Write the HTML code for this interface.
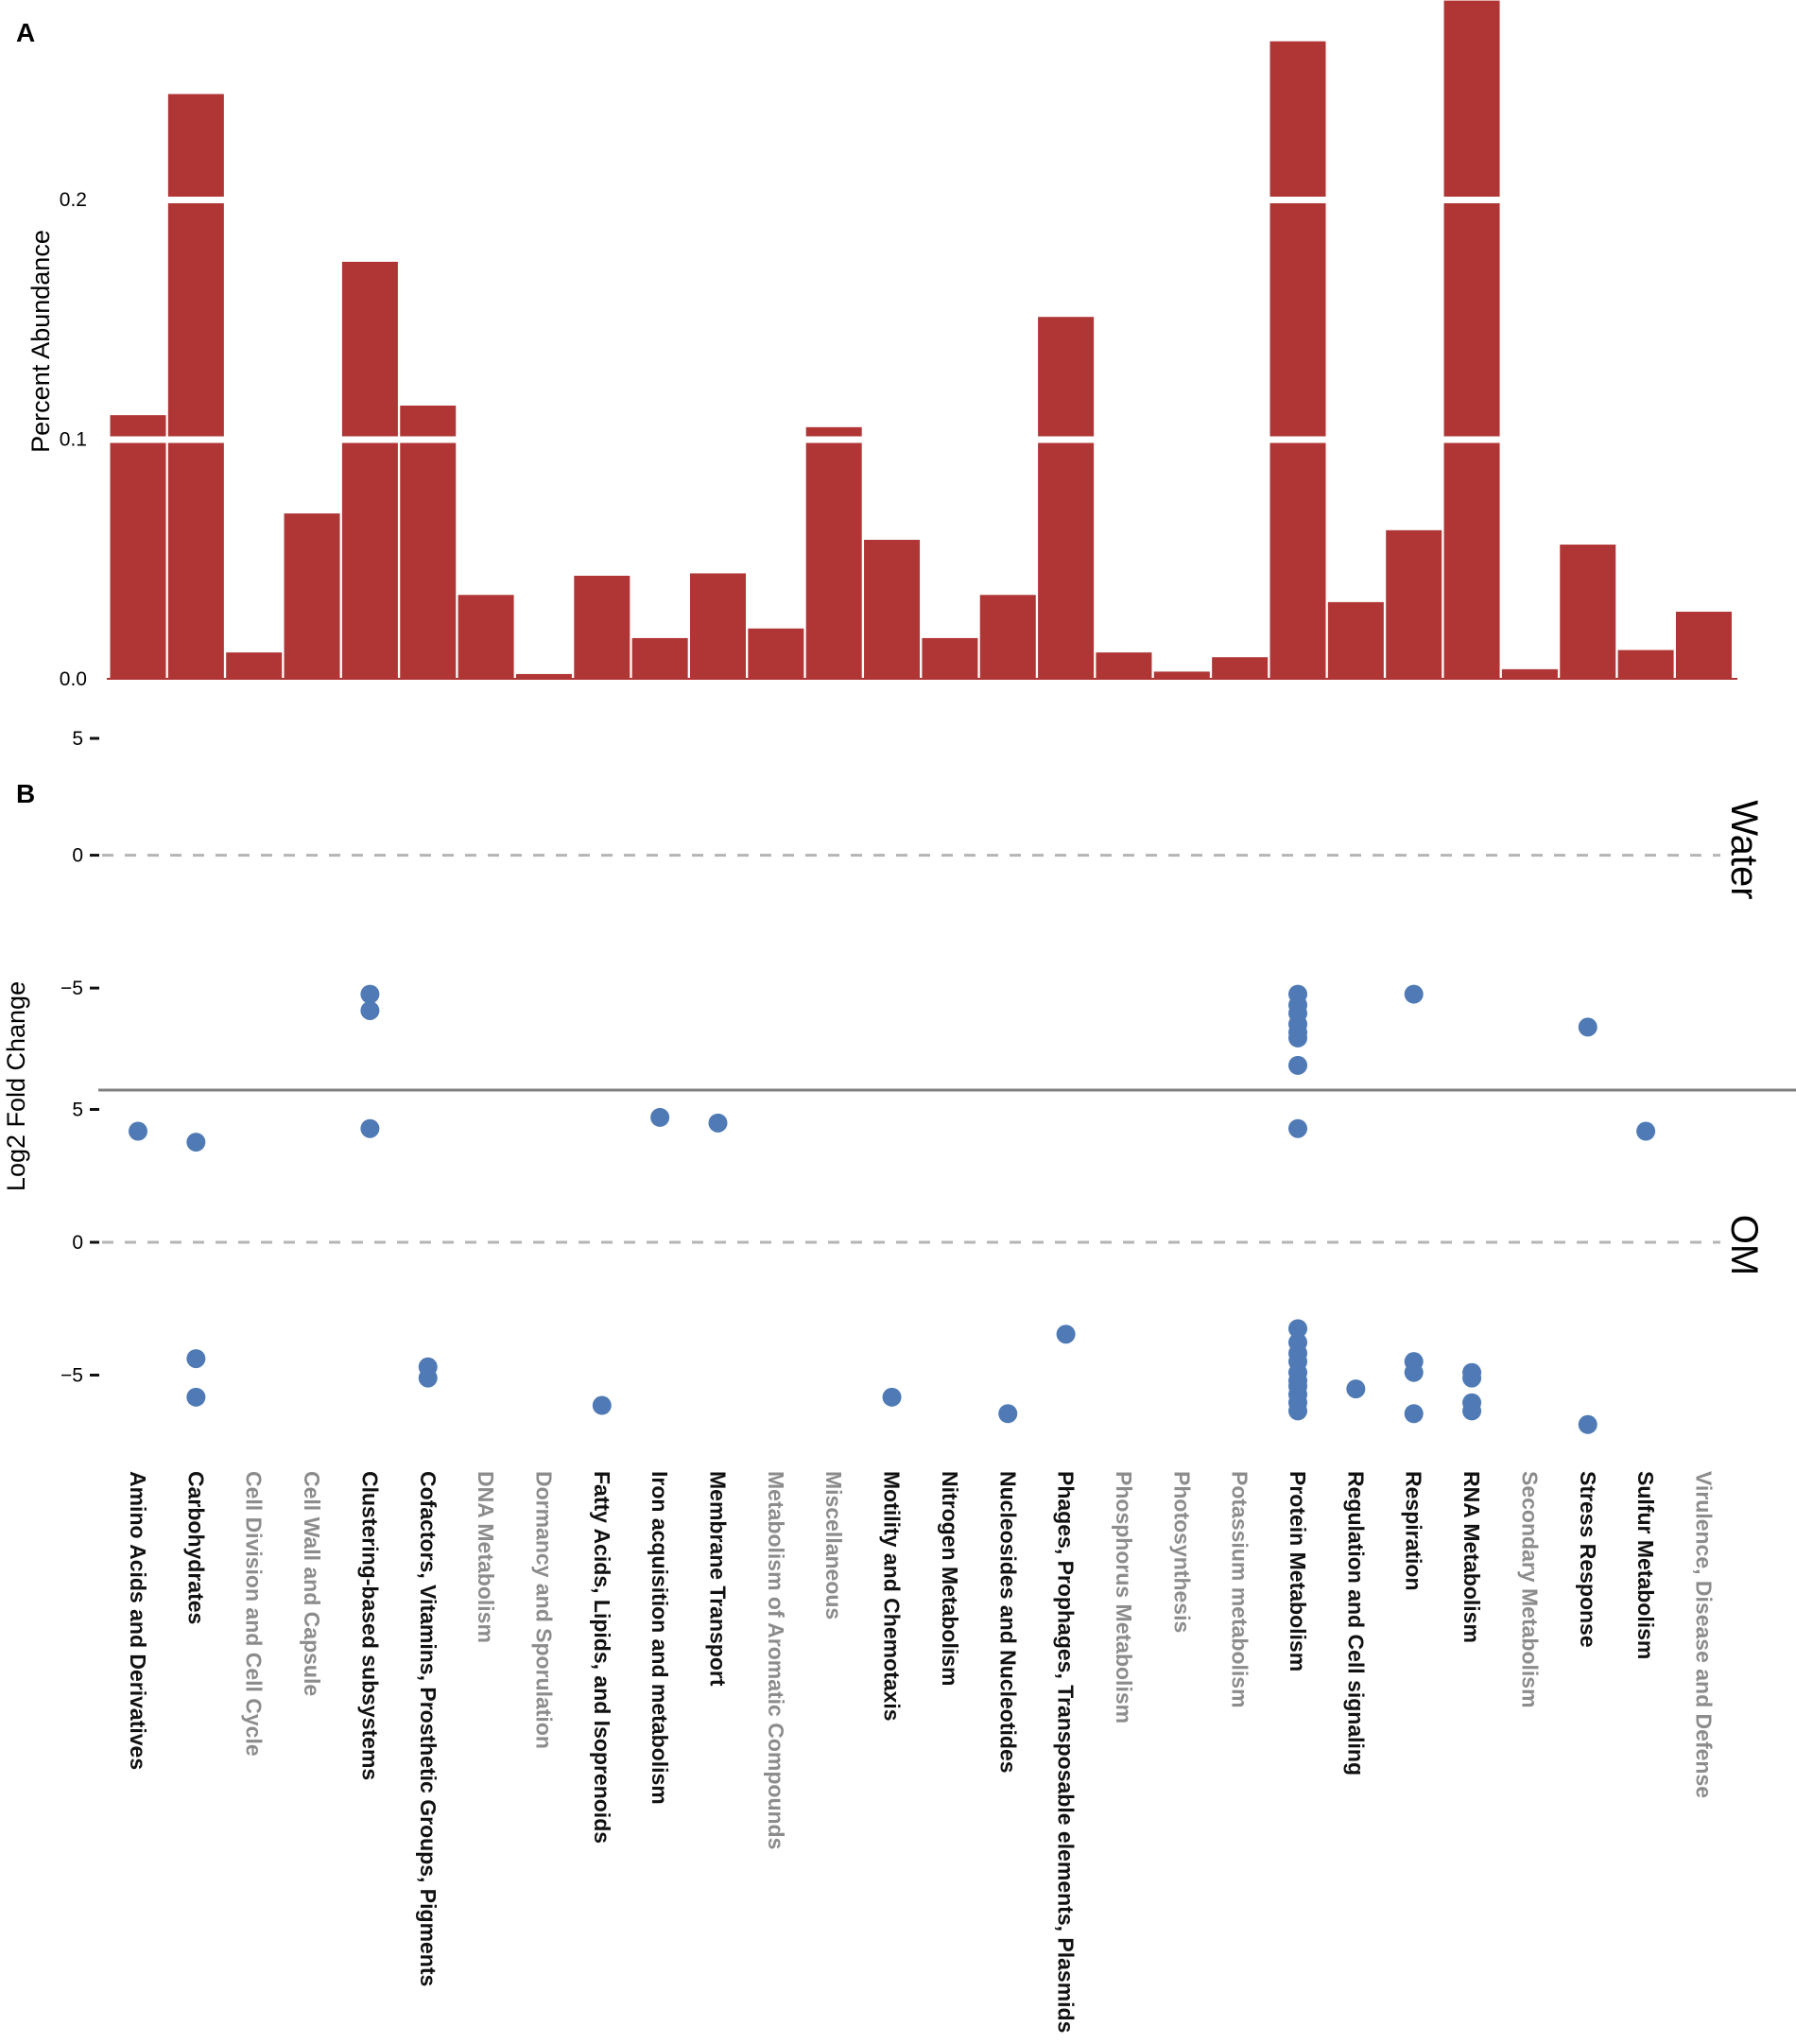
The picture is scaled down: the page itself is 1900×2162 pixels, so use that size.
<!DOCTYPE html>
<html><head><meta charset="utf-8"><style>
html,body{margin:0;padding:0;background:#fff;}
svg{display:block;font-family:"Liberation Sans",Arial,sans-serif;}
</style></head><body>
<svg id="chart" width="1900" height="2162" viewBox="0 0 1900 2162" xmlns="http://www.w3.org/2000/svg">
<text x="17" y="44" font-size="28" font-weight="bold">A</text>
<text x="17" y="849" font-size="28" font-weight="bold">B</text>
<text transform="translate(52,361) rotate(-90)" text-anchor="middle" font-size="27">Percent Abundance</text>
<text transform="translate(26,1149) rotate(-90)" text-anchor="middle" font-size="27">Log2 Fold Change</text>
<text transform="translate(1832,899) rotate(90)" text-anchor="middle" font-size="40">Water</text>
<text transform="translate(1832,1317) rotate(90)" text-anchor="middle" font-size="40">OM</text>
<line x1="95" x2="105" y1="781" y2="781" stroke="#111" stroke-width="3"/>
<text x="88" y="788" text-anchor="end" font-size="21">5</text>
<g id="gA"></g><g id="gB"></g><g id="gL"></g>
</svg>
<script>
const categories = ["Amino Acids and Derivatives","Carbohydrates","Cell Division and Cell Cycle","Cell Wall and Capsule","Clustering-based subsystems","Cofactors, Vitamins, Prosthetic Groups, Pigments","DNA Metabolism","Dormancy and Sporulation","Fatty Acids, Lipids, and Isoprenoids","Iron acquisition and metabolism","Membrane Transport","Metabolism of Aromatic Compounds","Miscellaneous","Motility and Chemotaxis","Nitrogen Metabolism","Nucleosides and Nucleotides","Phages, Prophages, Transposable elements, Plasmids","Phosphorus Metabolism","Photosynthesis","Potassium metabolism","Protein Metabolism","Regulation and Cell signaling","Respiration","RNA Metabolism","Secondary Metabolism","Stress Response","Sulfur Metabolism","Virulence, Disease and Defense"];
const abundance = [0.110,0.244,0.011,0.069,0.174,0.114,0.035,0.002,0.043,0.017,0.044,0.021,0.105,0.058,0.017,0.035,0.151,0.011,0.003,0.009,0.266,0.032,0.062,0.283,0.004,0.056,0.012,0.028];
const abundanceTicks = [0.0,0.1,0.2];
const labelBold = [1,1,0,0,1,1,0,0,1,1,1,0,0,1,1,1,1,0,0,0,1,1,1,1,0,1,1,0];
const waterCat = [4,4,20,20,20,20,20,20,20,22,25];
const waterVal = [-5.23,-5.85,-5.23,-5.64,-5.95,-6.36,-6.67,-6.88,-7.91,-5.23,-6.47];
const omCat = [0,1,1,1,4,5,5,8,9,10,13,15,16,20,20,20,20,20,20,20,20,20,20,20,21,22,22,22,23,23,23,23,25,26];
const omVal = [4.18,3.77,-4.38,-5.83,4.28,-4.69,-5.11,-6.14,4.70,4.49,-5.83,-6.45,-3.46,4.28,-3.25,-3.77,-4.18,-4.49,-4.90,-5.21,-5.42,-5.73,-6.04,-6.35,-5.52,-4.49,-4.90,-6.45,-4.90,-5.11,-6.04,-6.35,-6.86,4.18];
const foldTicks = [5,0,-5];
const waterTicks = [0,-5];

const NS="http://www.w3.org/2000/svg";
function mk(tag,attrs,parent){const e=document.createElementNS(NS,tag);for(const k in attrs)e.setAttribute(k,attrs[k]);parent.appendChild(e);return e;}
const x = i => 146 + i*61.35;
const yA = v => 718 - v*2535;
const yWater = v => 904.6 - v*28.1;
const yOM = v => 1314 - v*28.1;
const gA=document.getElementById('gA'), gB=document.getElementById('gB'), gL=document.getElementById('gL');

const axA=mk('line',{x1:113,x2:1838,y1:718,y2:718,stroke:'#b03535','stroke-width':2},gA);


abundance.forEach((v,i)=>{
  const r=mk('rect',{x:x(i)-29.5,y:yA(v),width:59,height:718-yA(v),fill:'#b03535'},gA);
  
  
});
abundanceTicks.forEach(t=>{
  const tx=mk('text',{x:92,y:yA(t)+7,'text-anchor':'end','font-size':21},gA);
  tx.textContent=t.toFixed(1);
  
  
  if(t>0){const b=mk('rect',{x:113,y:yA(t)-3,width:1725,height:7,fill:'#fff'},gA);
  
  }
});

function facetTicks(yf,ticks){
  ticks.forEach(t=>{
    const tl=mk('line',{x1:95,x2:105,y1:yf(t),y2:yf(t),stroke:'#111','stroke-width':3},gB);
    
    
    const tx=mk('text',{x:88,y:yf(t)+7,'text-anchor':'end','font-size':21},gB);
    tx.textContent=t<0?'\u2212'+(-t):String(t);
    
    
  });
}
facetTicks(yWater,waterTicks);
facetTicks(yOM,foldTicks);
[yWater(0),yOM(0)].forEach(y=>{
  const d=mk('line',{x1:108,x2:1820,y1:y,y2:y,stroke:'#b5b5b5','stroke-width':3,'stroke-dasharray':'12 12'},gB);
  
  
});
const sep=mk('line',{x1:104,x2:1900,y1:1153,y2:1153,stroke:'#808080','stroke-width':3},gB);


waterCat.forEach((c,i)=>{
  const p=mk('circle',{cx:x(c),cy:yWater(waterVal[i]),r:10,fill:'#4f7ab5'},gB);
  
  
});
omCat.forEach((c,i)=>{
  const p=mk('circle',{cx:x(c),cy:yOM(omVal[i]),r:10,fill:'#4f7ab5'},gB);
  
  
});
categories.forEach((c,i)=>{
  const t=mk('text',{transform:`translate(${x(i)-8},1556) rotate(90)`,'font-size':23,'font-weight':'bold',fill:labelBold[i]?'#111':'#8c8c8c'},gL);
  t.textContent=c;
  
  
});
</script>
</body></html>
